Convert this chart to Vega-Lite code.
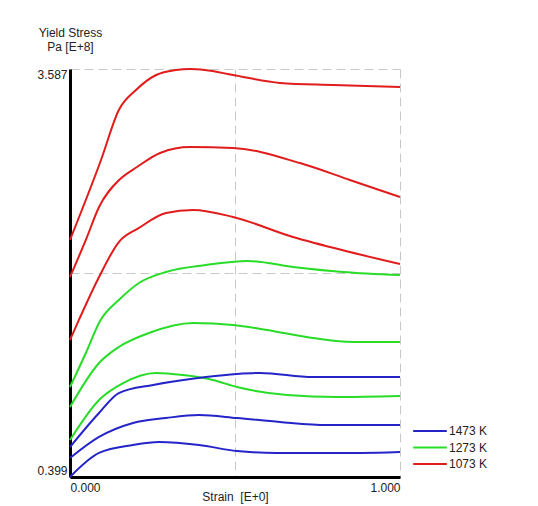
{
  "$schema": "https://vega.github.io/schema/vega-lite/v6.json",
  "width": 330,
  "height": 408,
  "autosize": "none",
  "padding": {"left": 70, "top": 69, "right": 138, "bottom": 29},
  "background": "white",
  "config": {
    "font": "Liberation Sans",
    "view": {"stroke": null},
    "axis": {"labelFont": "Liberation Sans", "titleFont": "Liberation Sans", "labelFontSize": 12, "titleFontSize": 12, "titleFontWeight": "normal", "labelColor": "#222", "titleColor": "#222"}
  },
  "data": {
    "values": [
      {"curve": "r1", "temp": "1073 K", "strain": 0.0, "stress": 2.251},
      {"curve": "r1", "temp": "1073 K", "strain": 0.094, "stress": 2.876},
      {"curve": "r1", "temp": "1073 K", "strain": 0.148, "stress": 3.267},
      {"curve": "r1", "temp": "1073 K", "strain": 0.2, "stress": 3.423},
      {"curve": "r1", "temp": "1073 K", "strain": 0.261, "stress": 3.54},
      {"curve": "r1", "temp": "1073 K", "strain": 0.321, "stress": 3.579},
      {"curve": "r1", "temp": "1073 K", "strain": 0.364, "stress": 3.587},
      {"curve": "r1", "temp": "1073 K", "strain": 0.409, "stress": 3.579},
      {"curve": "r1", "temp": "1073 K", "strain": 0.494, "stress": 3.54},
      {"curve": "r1", "temp": "1073 K", "strain": 0.636, "stress": 3.478},
      {"curve": "r1", "temp": "1073 K", "strain": 0.797, "stress": 3.462},
      {"curve": "r1", "temp": "1073 K", "strain": 1.0, "stress": 3.446},

      {"curve": "r2", "temp": "1073 K", "strain": 0.0, "stress": 1.962},
      {"curve": "r2", "temp": "1073 K", "strain": 0.048, "stress": 2.251},
      {"curve": "r2", "temp": "1073 K", "strain": 0.088, "stress": 2.509},
      {"curve": "r2", "temp": "1073 K", "strain": 0.149, "stress": 2.72},
      {"curve": "r2", "temp": "1073 K", "strain": 0.203, "stress": 2.821},
      {"curve": "r2", "temp": "1073 K", "strain": 0.273, "stress": 2.931},
      {"curve": "r2", "temp": "1073 K", "strain": 0.364, "stress": 2.977},
      {"curve": "r2", "temp": "1073 K", "strain": 0.494, "stress": 2.97},
      {"curve": "r2", "temp": "1073 K", "strain": 0.697, "stress": 2.852},
      {"curve": "r2", "temp": "1073 K", "strain": 0.848, "stress": 2.72},
      {"curve": "r2", "temp": "1073 K", "strain": 1.0, "stress": 2.587},

      {"curve": "r3", "temp": "1073 K", "strain": 0.0, "stress": 1.469},
      {"curve": "r3", "temp": "1073 K", "strain": 0.027, "stress": 1.626},
      {"curve": "r3", "temp": "1073 K", "strain": 0.088, "stress": 1.962},
      {"curve": "r3", "temp": "1073 K", "strain": 0.148, "stress": 2.235},
      {"curve": "r3", "temp": "1073 K", "strain": 0.209, "stress": 2.345},
      {"curve": "r3", "temp": "1073 K", "strain": 0.291, "stress": 2.462},
      {"curve": "r3", "temp": "1073 K", "strain": 0.373, "stress": 2.485},
      {"curve": "r3", "temp": "1073 K", "strain": 0.494, "stress": 2.431},
      {"curve": "r3", "temp": "1073 K", "strain": 0.676, "stress": 2.274},
      {"curve": "r3", "temp": "1073 K", "strain": 0.848, "stress": 2.157},
      {"curve": "r3", "temp": "1073 K", "strain": 1.0, "stress": 2.063},

      {"curve": "g1", "temp": "1273 K", "strain": 0.0, "stress": 1.102},
      {"curve": "g1", "temp": "1273 K", "strain": 0.048, "stress": 1.368},
      {"curve": "g1", "temp": "1273 K", "strain": 0.091, "stress": 1.618},
      {"curve": "g1", "temp": "1273 K", "strain": 0.148, "stress": 1.782},
      {"curve": "g1", "temp": "1273 K", "strain": 0.209, "stress": 1.915},
      {"curve": "g1", "temp": "1273 K", "strain": 0.291, "stress": 2.001},
      {"curve": "g1", "temp": "1273 K", "strain": 0.412, "stress": 2.056},
      {"curve": "g1", "temp": "1273 K", "strain": 0.539, "stress": 2.087},
      {"curve": "g1", "temp": "1273 K", "strain": 0.676, "stress": 2.04},
      {"curve": "g1", "temp": "1273 K", "strain": 0.827, "stress": 2.001},
      {"curve": "g1", "temp": "1273 K", "strain": 1.0, "stress": 1.977},

      {"curve": "g2", "temp": "1273 K", "strain": 0.0, "stress": 0.946},
      {"curve": "g2", "temp": "1273 K", "strain": 0.088, "stress": 1.29},
      {"curve": "g2", "temp": "1273 K", "strain": 0.148, "stress": 1.415},
      {"curve": "g2", "temp": "1273 K", "strain": 0.239, "stress": 1.524},
      {"curve": "g2", "temp": "1273 K", "strain": 0.373, "stress": 1.602},
      {"curve": "g2", "temp": "1273 K", "strain": 0.494, "stress": 1.587},
      {"curve": "g2", "temp": "1273 K", "strain": 0.597, "stress": 1.548},
      {"curve": "g2", "temp": "1273 K", "strain": 0.736, "stress": 1.485},
      {"curve": "g2", "temp": "1273 K", "strain": 0.858, "stress": 1.454},
      {"curve": "g2", "temp": "1273 K", "strain": 1.0, "stress": 1.454},

      {"curve": "g3", "temp": "1273 K", "strain": 0.0, "stress": 0.688},
      {"curve": "g3", "temp": "1273 K", "strain": 0.088, "stress": 1.001},
      {"curve": "g3", "temp": "1273 K", "strain": 0.161, "stress": 1.133},
      {"curve": "g3", "temp": "1273 K", "strain": 0.261, "stress": 1.212},
      {"curve": "g3", "temp": "1273 K", "strain": 0.342, "stress": 1.196},
      {"curve": "g3", "temp": "1273 K", "strain": 0.433, "stress": 1.157},
      {"curve": "g3", "temp": "1273 K", "strain": 0.506, "stress": 1.102},
      {"curve": "g3", "temp": "1273 K", "strain": 0.658, "stress": 1.04},
      {"curve": "g3", "temp": "1273 K", "strain": 0.809, "stress": 1.024},
      {"curve": "g3", "temp": "1273 K", "strain": 1.0, "stress": 1.032},

      {"curve": "b1", "temp": "1473 K", "strain": 0.0, "stress": 0.633},
      {"curve": "b1", "temp": "1473 K", "strain": 0.088, "stress": 0.899},
      {"curve": "b1", "temp": "1473 K", "strain": 0.148, "stress": 1.055},
      {"curve": "b1", "temp": "1473 K", "strain": 0.252, "stress": 1.118},
      {"curve": "b1", "temp": "1473 K", "strain": 0.412, "stress": 1.18},
      {"curve": "b1", "temp": "1473 K", "strain": 0.506, "stress": 1.204},
      {"curve": "b1", "temp": "1473 K", "strain": 0.576, "stress": 1.212},
      {"curve": "b1", "temp": "1473 K", "strain": 0.736, "stress": 1.18},
      {"curve": "b1", "temp": "1473 K", "strain": 1.0, "stress": 1.18},

      {"curve": "b2", "temp": "1473 K", "strain": 0.0, "stress": 0.547},
      {"curve": "b2", "temp": "1473 K", "strain": 0.088, "stress": 0.712},
      {"curve": "b2", "temp": "1473 K", "strain": 0.191, "stress": 0.821},
      {"curve": "b2", "temp": "1473 K", "strain": 0.291, "stress": 0.86},
      {"curve": "b2", "temp": "1473 K", "strain": 0.391, "stress": 0.883},
      {"curve": "b2", "temp": "1473 K", "strain": 0.506, "stress": 0.86},
      {"curve": "b2", "temp": "1473 K", "strain": 0.636, "stress": 0.829},
      {"curve": "b2", "temp": "1473 K", "strain": 0.779, "stress": 0.805},
      {"curve": "b2", "temp": "1473 K", "strain": 1.0, "stress": 0.805},

      {"curve": "b3", "temp": "1473 K", "strain": 0.0, "stress": 0.399},
      {"curve": "b3", "temp": "1473 K", "strain": 0.088, "stress": 0.587},
      {"curve": "b3", "temp": "1473 K", "strain": 0.191, "stress": 0.649},
      {"curve": "b3", "temp": "1473 K", "strain": 0.27, "stress": 0.672},
      {"curve": "b3", "temp": "1473 K", "strain": 0.391, "stress": 0.649},
      {"curve": "b3", "temp": "1473 K", "strain": 0.506, "stress": 0.602},
      {"curve": "b3", "temp": "1473 K", "strain": 0.627, "stress": 0.587},
      {"curve": "b3", "temp": "1473 K", "strain": 0.879, "stress": 0.587},
      {"curve": "b3", "temp": "1473 K", "strain": 1.0, "stress": 0.594}
    ]
  },
  "mark": {"type": "line", "strokeWidth": 2, "interpolate": "monotone"},
  "encoding": {
    "x": {
      "field": "strain", "type": "quantitative",
      "scale": {"domain": [0, 1], "nice": false, "zero": false},
      "axis": {
        "values": [0, 0.5, 1],
        "labelExpr": "datum.value == 0.5 ? '' : format(datum.value, '.3f')",
        "labelFlush": true,
        "labelPadding": 5,
        "ticks": false,
        "domainColor": "black",
        "domainWidth": 3,
        "grid": true,
        "gridColor": "#c8c8c8",
        "gridDash": [9, 5],
        "gridWidth": 1,
        "title": "Strain\u00a0 [E+0]",
        "titleY": 14,
        "titleBaseline": "top"
      }
    },
    "y": {
      "field": "stress", "type": "quantitative",
      "scale": {"domain": [0.399, 3.587], "nice": false, "zero": false},
      "axis": {
        "values": [0.399, 1.993, 3.587],
        "labelExpr": "datum.value == 1.993 ? '' : format(datum.value, '.3f')",
        "labelFlush": true,
        "labelPadding": 3,
        "ticks": false,
        "domainColor": "black",
        "domainWidth": 3,
        "grid": true,
        "gridColor": "#c8c8c8",
        "gridDash": [9, 5],
        "gridWidth": 1,
        "title": ["Yield Stress", "Pa [E+8]"],
        "titleAngle": 0,
        "titleX": 0,
        "titleY": -42,
        "titleAlign": "center",
        "titleBaseline": "top",
        "titleLineHeight": 14
      }
    },
    "color": {
      "field": "temp", "type": "nominal",
      "scale": {"domain": ["1473 K", "1273 K", "1073 K"], "range": ["#2424c8", "#28dc28", "#e01c1c"]},
      "legend": {
        "title": null,
        "orient": "none",
        "legendX": 352,
        "legendY": 354,
        "symbolType": "M-2.4,0H2.4",
        "symbolSize": 196,
        "symbolStrokeWidth": 2,
        "labelOffset": 11,
        "labelFontSize": 12,
        "labelFont": "Liberation Sans",
        "labelColor": "#222",
        "rowPadding": 2.5
      }
    },
    "detail": {"field": "curve"}
  }
}
